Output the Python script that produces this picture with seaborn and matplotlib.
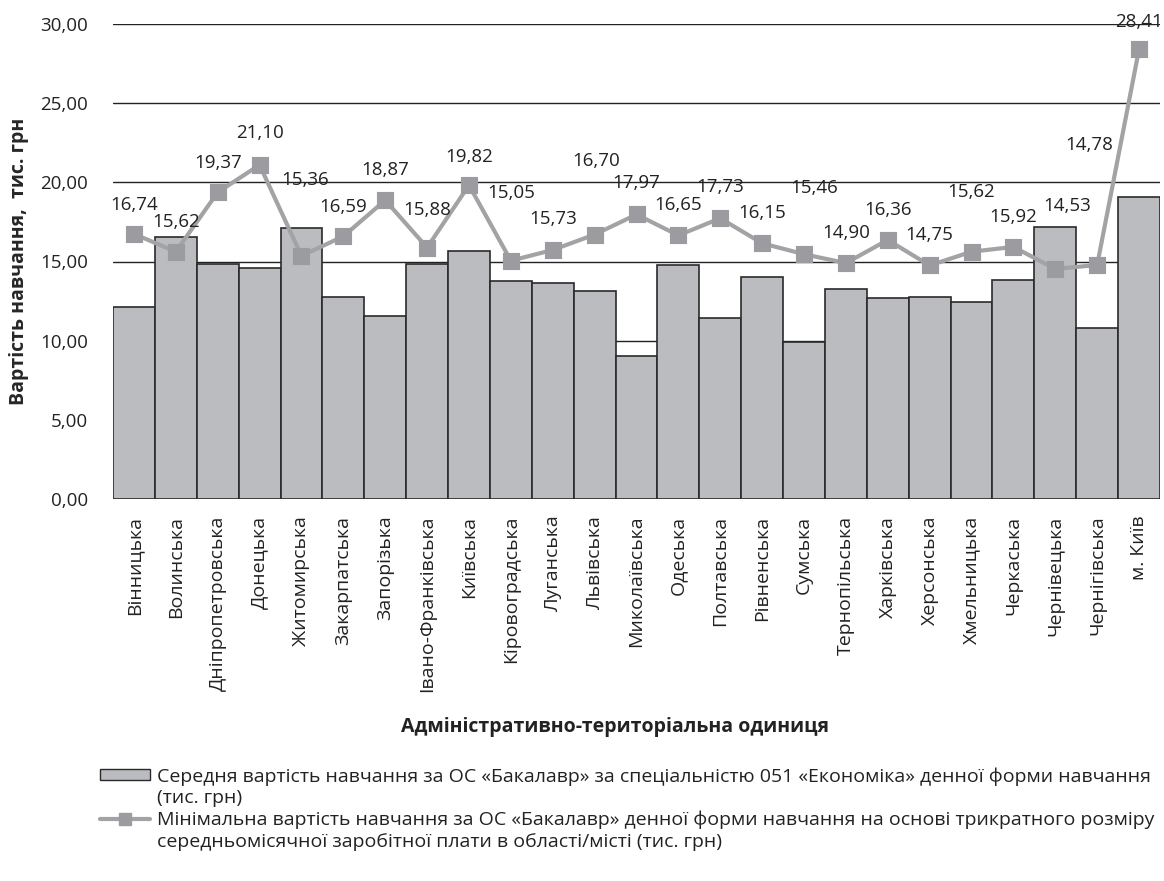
import numpy as np
import pandas as pd
import matplotlib
matplotlib.use("Agg")
import matplotlib.pyplot as plt
from matplotlib.lines import Line2D
from matplotlib.patches import Patch
from matplotlib.ticker import FuncFormatter
import seaborn as sns

regions = ["Вінницька", "Волинська", "Дніпропетровська", "Донецька", "Житомирська",
           "Закарпатська", "Запорізька", "Івано-Франківська", "Київська", "Кіровоградська",
           "Луганська", "Львівська", "Миколаївська", "Одеська", "Полтавська", "Рівненська",
           "Сумська", "Тернопільська", "Харківська", "Херсонська", "Хмельницька",
           "Черкаська", "Чернівецька", "Чернігівська", "м. Київ"]

avg_cost = [12.15, 16.57, 14.82, 14.61, 17.14, 12.78, 11.58, 14.82, 15.67, 13.77,
            13.67, 13.12, 9.05, 14.78, 11.45, 14.00, 9.90, 13.25, 12.68, 12.74,
            12.42, 13.86, 17.18, 10.82, 19.10]

min_cost = [16.74, 15.62, 19.37, 21.10, 15.36, 16.59, 18.87, 15.88, 19.82, 15.05,
            15.73, 16.70, 17.97, 16.65, 17.73, 16.15, 15.46, 14.90, 16.36, 14.75,
            15.62, 15.92, 14.53, 14.78, 28.41]

# label offsets in pixels (style only)
lab_dx = [0, 0, 0, 0, 4, 0, 0, 0, 0, 0, 0, 2, 0, 0, 0, 0, 10, 0, 0, 0, 0, 0, 12, -8, 0]
lab_dy = [29, 30, 29, 32, 76, 29, 30, 38, 28, 68, 31, 74, 31, 30, 31, 30, 66, 30, 30, 30, 60, 30, 63, 120, 27]

legend_lines = ["Середня вартість навчання за ОС «Бакалавр» за спеціальністю 051 «Економіка» денної форми навчання",
                "(тис. грн)",
                "Мінімальна вартість навчання за ОС «Бакалавр» денної форми навчання на основі трикратного розміру",
                "середньомісячної заробітної плати в області/місті (тис. грн)"]

df = pd.DataFrame({"region": regions, "avg": avg_cost, "min": min_cost})

sns.set_style("white")
plt.rcParams["font.family"] = ["Open Sans", "DejaVu Sans"]

fig = plt.figure(figsize=(11.64, 8.81), dpi=100)
ax = fig.add_axes([113 / 1164, 1 - 499 / 881, (1160 - 113) / 1164, (499 - 24) / 881])

bar_color = "#bbbcc0"
line_color = "#a3a3a6"
mark_color = "#9c9ca0"
txt = "#222222"

sns.barplot(data=df, x="region", y="avg", color=bar_color, width=1.0, saturation=1,
            edgecolor="#2a2a2a", linewidth=1.2, ax=ax, zorder=2)
sns.pointplot(data=df, x="region", y="min", color=line_color, markers="s",
              markersize=10, linewidth=3, ax=ax, zorder=3)
for ln in ax.lines:
    ln.set_markerfacecolor(mark_color)
    ln.set_markeredgecolor(mark_color)

for i, v in enumerate(min_cost):
    ax.annotate(f"{v:.2f}".replace(".", ","), (i, v), xytext=(lab_dx[i], lab_dy[i]),
                textcoords="offset pixels", ha="center", va="center",
                fontsize=13.5, color=txt, annotation_clip=False, zorder=4)

ax.set_ylim(0, 30)
ax.set_xlim(-0.5, len(regions) - 0.5)
ax.set_yticks(np.arange(0, 31, 5))
ax.yaxis.set_major_formatter(FuncFormatter(lambda v, p: f"{v:.2f}".replace(".", ",")))
ax.grid(axis="y", color=txt, linewidth=1.0)
ax.set_axisbelow(True)
for s in ax.spines.values():
    s.set_visible(False)
ax.tick_params(axis="x", labelrotation=90, labelsize=14, length=0, pad=12, colors=txt)
ax.tick_params(axis="y", labelsize=13.5, length=0, pad=18, colors=txt)

ax.set_ylabel("Вартість навчання,  тис. грн", fontsize=14, fontweight="bold", labelpad=8)
ax.set_xlabel("")
fig.text(615 / 1164, 1 - 727 / 881, "Адміністративно-територіальна одиниця",
         ha="center", va="center", fontsize=14, fontweight="bold", color=txt)

blank = Patch(facecolor="none", edgecolor="none")
handles = [Patch(facecolor=bar_color, edgecolor="#2a2a2a", linewidth=1.0), blank,
           Line2D([0], [0], color=line_color, linewidth=3, marker="s", markersize=9,
                  markerfacecolor=mark_color, markeredgecolor=mark_color), blank]
fig.legend(handles, legend_lines, loc="upper left", bbox_to_anchor=(100 / 1164, 1 - 767 / 881),
           frameon=False, fontsize=14, handlelength=2.55, handleheight=0.5,
           borderpad=0, borderaxespad=0, labelspacing=0.19, handletextpad=0.4,
           labelcolor=txt)

fig.savefig("out.png", dpi=100)
